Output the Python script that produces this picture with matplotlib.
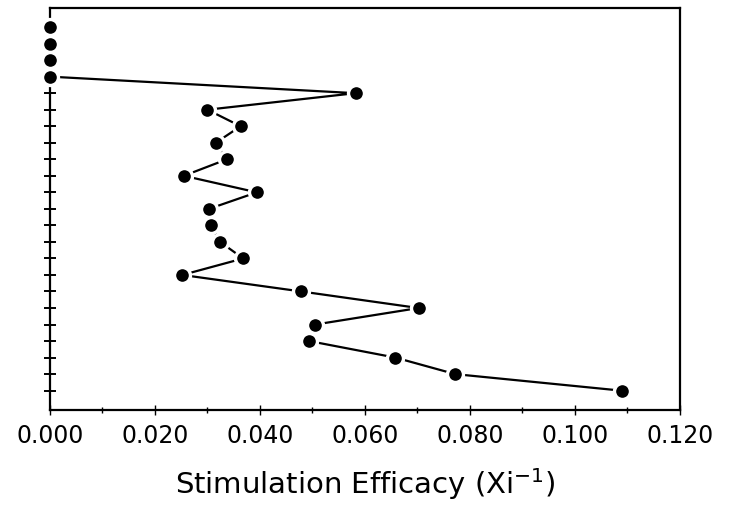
import numpy as np
from matplotlib import pyplot as plt
from matplotlib.ticker import MultipleLocator, FormatStrFormatter

# rank position from the top of the panel, and stimulation efficacy
rank = list(range(1, 24))
efficacy = [0.000, 0.000, 0.000, 0.000, 0.0582, 0.0300, 0.0363, 0.0316, 0.0337,
            0.0255, 0.0394, 0.0303, 0.0307, 0.0324, 0.0368, 0.0252, 0.0479,
            0.0702, 0.0505, 0.0494, 0.0658, 0.0772, 0.1089]
first_joined = 3  # the line starts at the last point sitting on x = 0

xticks = [0.000, 0.020, 0.040, 0.060, 0.080, 0.100, 0.120]

fig = plt.figure(figsize=(7.36, 5.06), dpi=100)
ax = fig.add_axes([0.0679, 0.1884, 0.8560, 0.7937])

ax.plot(efficacy[first_joined:], rank[first_joined:], color='black', lw=1.6,
        zorder=2, solid_capstyle='butt')
ax.plot(efficacy, rank, 'o', color='black', ms=11.5, mec='white', mew=2.4,
        zorder=4, clip_on=False)

ax.set_xlim(0, 0.120)
ax.set_ylim(24.15, -0.15)

ax.set_xticks(xticks)
ax.xaxis.set_major_formatter(FormatStrFormatter('%.3f'))
ax.xaxis.set_minor_locator(MultipleLocator(0.010))
ax.tick_params(axis='x', which='major', direction='inout', length=7, width=1,
               labelsize=17, pad=6)
ax.tick_params(axis='x', which='minor', direction='inout', length=4, width=1)

ax.set_yticks(rank)
ax.tick_params(axis='y', which='major', direction='inout', length=8, width=1.4,
               labelleft=False)

for side in ['left', 'bottom', 'top', 'right']:
    ax.spines[side].set_linewidth(1.6)
    ax.spines[side].set_zorder(1)

ax.set_xlabel('Stimulation Efficacy (Xi$^{-1}$)', fontsize=21, labelpad=13)

plt.savefig('out.png', dpi=100)
